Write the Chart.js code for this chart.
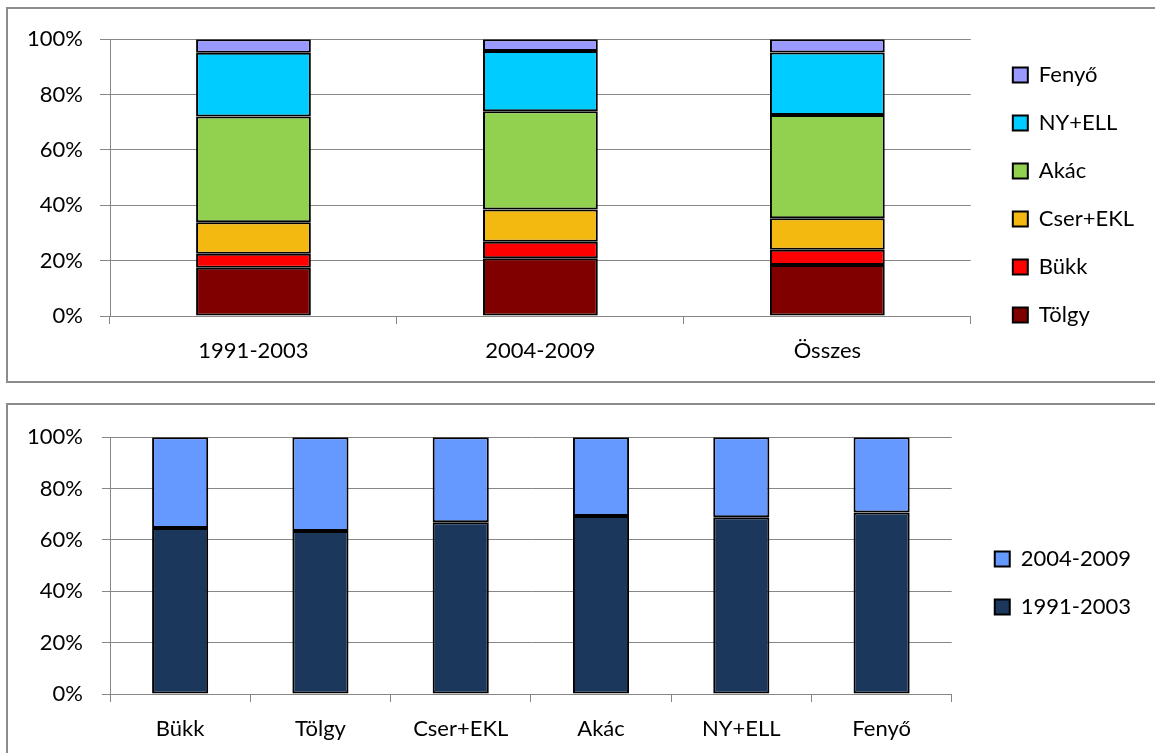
<!DOCTYPE html>
<html>
<head>
<meta charset="utf-8">
<script src="https://cdn.jsdelivr.net/npm/chart.js@4.4.1/dist/chart.umd.min.js"></script>
<style>
html, body { margin: 0; padding: 0; background: #fff; overflow: hidden; width: 1155px; height: 753px; }
.box { position: absolute; left: 6px; width: 1200px; border: 2px solid #8c8c8c; background: #fff; }
#box1 { top: 7px; height: 372px; }
#box2 { top: 403px; height: 400px; }
canvas { position: absolute; left: 0; top: 0; }
</style>
</head>
<body>
<div class="box" id="box1"><canvas id="idoszak" width="1146" height="372"></canvas></div>
<div class="box" id="box2"><canvas id="fafaj" width="1146" height="348"></canvas></div>
<script>
'use strict';

//felső diagram: fafajok aránya időszakonként (%)
var periods = ['1991-2003', '2004-2009', 'Összes'];
var tolgy   = [17.4, 20.9, 18.4];
var bukk    = [5.1, 5.9, 5.5];
var cser    = [11.4, 11.7, 11.4];
var akac    = [38.2, 35.5, 37.3];
var nyell   = [23.0, 21.7, 22.6];
var fenyo   = [4.9, 4.3, 4.8];

//alsó diagram: időszakok aránya fafajonként (%)
var species = ['Bükk', 'Tölgy', 'Cser+EKL', 'Akác', 'NY+ELL', 'Fenyő'];
var p1991   = [64.6, 63.5, 66.9, 69.3, 68.8, 70.7];
var p2004   = [35.4, 36.5, 33.1, 30.7, 31.2, 29.3];

var pctTicks = [0, 20, 40, 60, 80, 100];

Chart.defaults.font.family = 'Lato';
Chart.defaults.font.size = 22;
Chart.defaults.color = '#000';

var gridColor = '#868686';

function ds(label, data, color) {
	return {
		label: label,
		data: data,
		backgroundColor: color,
		borderColor: '#000',
		borderWidth: 2,
		borderSkipped: false,
		barPercentage: 0.5,
		categoryPercentage: 0.8
	};
}

function makeOptions(o) {
	return {
		responsive: false,
		animation: false,
		devicePixelRatio: 1,
		layout: { padding: { top: o.padTop, right: o.padRight, left: 0, bottom: 0 } },
		plugins: {
			legend: {
				position: 'right',
				reverse: true,
				labels: { boxWidth: 15, boxHeight: 15, padding: 26, font: { size: 22 } }
			},
			tooltip: { enabled: false }
		},
		scales: {
			x: {
				stacked: true,
				grid: { drawOnChartArea: false, drawTicks: true, tickLength: 8, color: gridColor, offset: true },
				border: { color: gridColor, width: 1 },
				ticks: { padding: 14 },
				afterFit: function(s) { s.height = o.xHeight; }
			},
			x2: {
				type: 'category',
				position: 'top',
				grid: { display: false },
				ticks: { display: false },
				border: { display: false },
				afterFit: function(s) { s.height = o.topGap; }
			},
			y: {
				stacked: true,
				min: 0,
				max: 100,
				afterBuildTicks: function(s) { s.ticks = pctTicks.map(function(v) { return { value: v }; }); },
				grid: { color: gridColor, tickLength: o.tickLen, lineWidth: 1 },
				border: { color: gridColor, width: 1 },
				ticks: { padding: o.yPad, callback: function(v) { return v + '%'; } },
				afterFit: function(s) { s.width = 102; }
			},
			y2: {
				type: 'linear',
				position: 'right',
				grid: { display: false },
				ticks: { display: false },
				border: { display: false },
				afterFit: function(s) { s.width = o.rightGap; }
			}
		}
	};
}

//felső diagram
new Chart(document.getElementById('idoszak'), {
	type: 'bar',
	data: {
		labels: periods,
		datasets: [
			ds('Tölgy', tolgy, '#800000'),
			ds('Bükk', bukk, '#FF0000'),
			ds('Cser+EKL', cser, '#F4B910'),
			ds('Akác', akac, '#92D050'),
			ds('NY+ELL', nyell, '#00CCFF'),
			ds('Fenyő', fenyo, '#9999FF')
		]
	},
	options: makeOptions({ padTop: 0, padRight: 10, xHeight: 65, topGap: 29, tickLen: 10, yPad: 17, rightGap: 16 })
});

//alsó diagram
new Chart(document.getElementById('fafaj'), {
	type: 'bar',
	data: {
		labels: species,
		datasets: [
			ds('1991-2003', p1991, '#1B375C'),
			ds('2004-2009', p2004, '#6699FF')
		]
	},
	options: makeOptions({ padTop: 8, padRight: 13, xHeight: 59, topGap: 20, tickLen: 8, yPad: 19, rightGap: 17 })
});
</script>
</body>
</html>
